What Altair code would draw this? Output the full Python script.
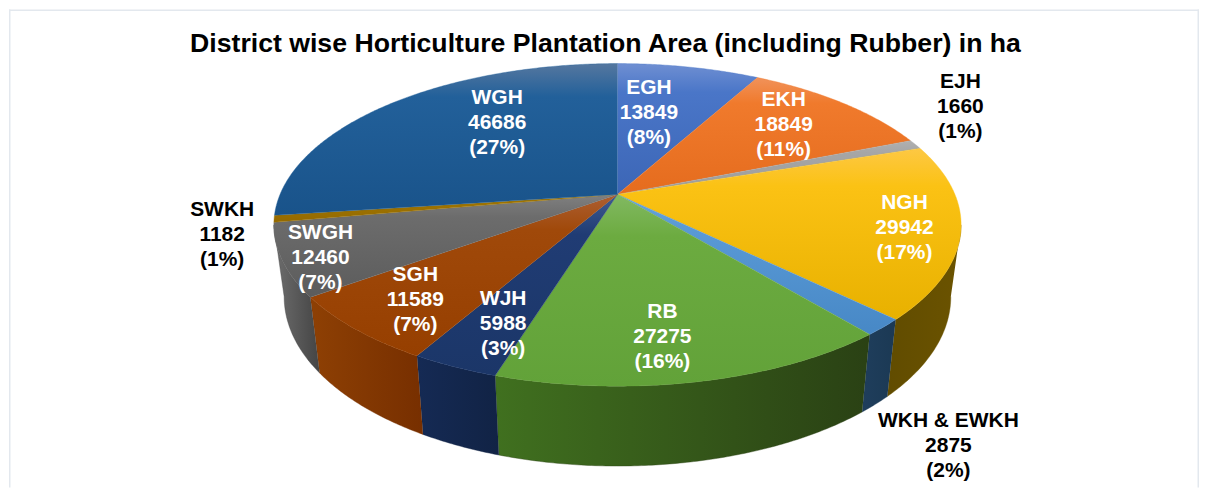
import math
import altair as alt
import pandas as pd

# ---- data ----
DISTRICTS = ["EGH", "EKH", "EJH", "NGH", "WKH & EWKH", "RB", "WJH", "SGH", "SWGH", "SWKH", "WGH"]
AREAS = [13849, 18849, 1660, 29942, 2875, 27275, 5988, 11589, 12460, 1182, 46686]
SHARES = [8, 11, 1, 17, 2, 16, 3, 7, 7, 1, 27]
TITLE = "District wise Horticulture Plantation Area (including Rubber) in ha"

# ---- styling ----
TOP_STOPS = {
    "EGH": ["#6f8fd2", "#4a76c8", "#3c66b6"],
    "EKH": ["#f1925a", "#f07a2c", "#e56c1e"],
    "EJH": ["#b0b0b0", "#a6a6a6", "#9c9c9c"],
    "NGH": ["#fdc844", "#fbc214", "#e8b100"],
    "WKH & EWKH": ["#68a5dd", "#5a9ad6", "#4788c6"],
    "RB": ["#82b962", "#6cab40", "#62a239"],
    "WJH": ["#3f5c92", "#203c74", "#1b3668"],
    "SGH": ["#ad5f32", "#a0490a", "#963f00"],
    "SWGH": ["#808080", "#6c6c6c", "#5c5c5c"],
    "SWKH": ["#a67a0c", "#a07400", "#946a00"],
    "WGH": ["#55779f", "#22609a", "#19538a"],
}
WALL_STOPS = {
    "EGH": ["#28447a", "#22396a"],
    "EKH": ["#8e4a1c", "#7a3e16"],
    "EJH": ["#666666", "#555555"],
    "NGH": ["#614c00", "#6b5300"],
    "WKH & EWKH": ["#1f3e5c", "#1b3954"],
    "RB": ["#40701f", "#2a4114"],
    "WJH": ["#152a54", "#112345"],
    "SGH": ["#8e4004", "#772f00"],
    "SWGH": ["#6e6e6e", "#444444"],
    "SWKH": ["#6e5000", "#5c4300"],
    "WGH": ["#14406a", "#103558"],
}
# position of each label's first line
LABEL_AT = {
    "EGH": (649, 87), "EKH": (784, 99), "EJH": (961, 81), "NGH": (905, 202),
    "WKH & EWKH": (949, 420), "RB": (662.5, 311), "WJH": (503, 298), "SGH": (415, 274),
    "SWGH": (320, 232), "SWKH": (221.5, 209), "WGH": (497, 97),
}
OUTSIDE = {"EJH", "SWKH", "WKH & EWKH"}

CX, CY, RX, RY, K = 617.5, 193.3, 338.0, 155.8, 0.189
LEFT, RIGHT, TOP, BOTTOM = 8, 1200, 8, 487


def rim(theta_deg):
    t = math.radians(theta_deg)
    u, v = math.sin(t), math.cos(t)
    w = 1 + K * v
    return CX + RX * u / w, CY - RY * v / w, v


def floor_rim(theta_deg):
    sx, sy, v = rim(theta_deg)
    return CX + (sx - CX) * 0.97, sy + 70 + 10 * max(-v, 0)


x_scale = alt.Scale(domain=[LEFT, RIGHT], nice=False, zero=False)
y_scale = alt.Scale(domain=[BOTTOM, TOP], nice=False, zero=False)


def polygon(points, fill, stroke):
    frame = pd.DataFrame({"px": [p[0] for p in points], "py": [p[1] for p in points],
                          "i": list(range(len(points)))})
    return alt.Chart(frame).mark_line(fill=fill, stroke=stroke, strokeWidth=0.4).encode(
        x=alt.X("px:Q", scale=x_scale, axis=None),
        y=alt.Y("py:Q", scale=y_scale, axis=None),
        order="i:Q",
    )


def gradient(colors, vertical=True):
    offsets = [0, 0.22, 1] if len(colors) == 3 else [0, 1]
    stops = [alt.GradientStop(offset=o, color=c) for o, c in zip(offsets, colors)]
    return alt.LinearGradient(gradient="linear", stops=stops,
                              x1=0, x2=0 if vertical else 1, y1=0, y2=1 if vertical else 0)


total = sum(AREAS)
angles = [0.0]
for a in AREAS:
    angles.append(angles[-1] + a / total * 360)

rt = 90 + math.degrees(math.asin(K))
lt = 360 - rt

layers = []
# side wall
for name, a0, a1 in zip(DISTRICTS, angles[:-1], angles[1:]):
    s, e = max(a0, rt), min(a1, lt)
    if e <= s:
        continue
    n = max(2, int((e - s) * 2))
    ts = [s + (e - s) * i / n for i in range(n + 1)]
    pts = [rim(t)[:2] for t in ts] + [floor_rim(t) for t in reversed(ts)]
    layers.append(polygon(pts, gradient(WALL_STOPS[name], vertical=False), WALL_STOPS[name][1]))

# top face
for name, a0, a1 in zip(DISTRICTS, angles[:-1], angles[1:]):
    n = max(2, int((a1 - a0) * 2))
    ts = [a0 + (a1 - a0) * i / n for i in range(n + 1)]
    pts = [(CX, CY)] + [rim(t)[:2] for t in ts]
    layers.append(polygon(pts, gradient(TOP_STOPS[name]), TOP_STOPS[name][1]))

labels = pd.DataFrame({
    "text": [f"{d}\n{a}\n({s}%)" for d, a, s in zip(DISTRICTS, AREAS, SHARES)],
    "px": [LABEL_AT[d][0] for d in DISTRICTS],
    "py": [LABEL_AT[d][1] for d in DISTRICTS],
    "ink": ["#000000" if d in OUTSIDE else "#ffffff" for d in DISTRICTS],
})
layers.append(alt.Chart(labels).mark_text(
    font="Liberation Sans", fontWeight="bold", fontSize=21, lineHeight=25,
    lineBreak="\n", align="center", baseline="middle",
).encode(
    x=alt.X("px:Q", scale=x_scale, axis=None),
    y=alt.Y("py:Q", scale=y_scale, axis=None),
    text="text:N",
    color=alt.Color("ink:N", scale=None, legend=None),
))

title = pd.DataFrame({"text": [TITLE], "px": [605.5], "py": [42.5]})
layers.append(alt.Chart(title).mark_text(
    font="Liberation Sans", fontWeight="bold", fontSize=26.7, align="center", baseline="middle",
    color="#000000",
).encode(
    x=alt.X("px:Q", scale=x_scale, axis=None),
    y=alt.Y("py:Q", scale=y_scale, axis=None),
    text="text:N",
))

# chart frame: top, left and right edges
edge = "#e3e8ee"
layers.append(alt.Chart(pd.DataFrame({"a": [0]})).mark_rule(color=edge, strokeWidth=1.5).encode(
    x=alt.value(0), x2=alt.value(RIGHT - LEFT), y=alt.value(0.75)))
layers.append(alt.Chart(pd.DataFrame({"a": [0]})).mark_rule(color=edge, strokeWidth=1.5).encode(
    x=alt.value(0.75), y=alt.value(0), y2=alt.value(BOTTOM - TOP)))
layers.append(alt.Chart(pd.DataFrame({"a": [0]})).mark_rule(color=edge, strokeWidth=1.5).encode(
    x=alt.value(RIGHT - LEFT - 0.75), y=alt.value(0), y2=alt.value(BOTTOM - TOP)))

chart = alt.layer(*layers).properties(
    width=RIGHT - LEFT, height=BOTTOM - TOP, padding=0, background="#ffffff",
).configure_view(stroke=None)

chart.save("out.html", embed_options={"renderer": "svg", "actions": False})
